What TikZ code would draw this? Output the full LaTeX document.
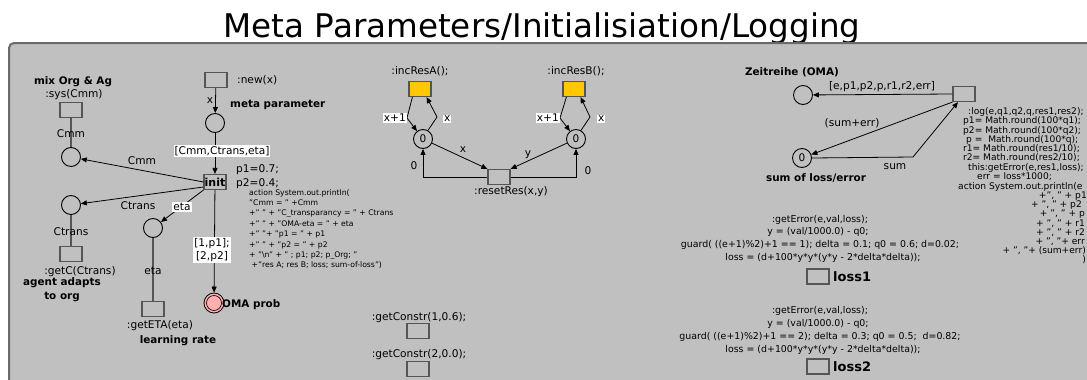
\documentclass[tikz,border=0pt]{standalone}
\usepackage{fontspec}
\setmainfont{DejaVu Sans}
\usetikzlibrary{arrows.meta}
\definecolor{bgray}{HTML}{C0C0C0}
\definecolor{frm}{HTML}{6A6A6A}
\definecolor{tbd}{HTML}{555555}
\definecolor{yel}{HTML}{FFC800}
\definecolor{omapink}{HTML}{FFAFAF}
\newcommand\myfs[2]{\fontsize{#1}{#2}\selectfont}
\begin{document}
\begin{tikzpicture}[x=1pt,y=-1pt,
  trans/.style={draw=tbd, line width=1.2pt, minimum width=22pt, minimum height=15pt, inner sep=0pt},
  place/.style={circle, draw=black, line width=0.9pt, minimum size=19pt, inner sep=0pt, font=\myfs{10.5}{12}},
  arc/.style={draw=black, line width=0.8pt, -{Triangle[length=6pt,width=5pt]}},
  rd/.style={draw=tbd, line width=1.3pt},
  txt/.style={inner sep=0pt, font=\myfs{10.6}{12}},
  btxt/.style={inner sep=0pt, font=\myfs{10.4}{12}\bfseries},
  wl/.style={fill=white, inner sep=1pt, font=\myfs{10.6}{12.5}},
  act/.style={inner sep=0pt, font=\myfs{7.7}{10.4}, align=left, anchor=north west},
  lg/.style={inner sep=0pt, font=\myfs{9.1}{10}},
  er/.style={inner sep=0pt, font=\myfs{9.4}{11}},
]
\useasboundingbox (0,0) rectangle (1087,380);
% title and frame
\node[inner sep=0pt, font=\myfs{32.6}{34}, anchor=base] (title) at (542,37) {Meta Parameters/Initialisiation/Logging};
\draw[draw=frm, fill=bgray, line width=2pt, rounded corners=5pt] (9,43) rectangle (1110,400);

% ---------- left part ----------
\node[btxt] (mixlbl) at (73,82) {mix Org \& Ag};
\node[txt] (syslbl) at (74,95) {:sys(Cmm)};
\node[trans] (sys) at (71,110) {};
\node[place] (pCmm) at (71,157) {};
\draw[rd] (sys) -- (pCmm);
\node[txt] (lcmm1) at (71,134) {Cmm};

\node[trans] (new) at (216,80) {};
\node[txt, anchor=west] (newlbl) at (237,80) {:new(x)};
\node[place] (pMeta) at (215,123) {};
\node[btxt, anchor=west] (metalbl) at (230,105) {meta parameter};
\draw[arc] (new) -- (pMeta);
\node[txt] (lx0) at (210,101) {x};

\node[trans, font=\myfs{11}{12}\bfseries] (init) at (215,182) {init};
\draw[arc] (pMeta) -- (init);
\node[wl] (lmeta) at (222,151) {[Cmm,Ctrans,eta]};
\node[txt, anchor=west] (p1) at (236,170) {p1=0.7;};
\node[txt, anchor=west] (p2) at (236,184) {p2=0.4;};
\node[act] (action) at (249,189) {action System.out.println(\\
"Cmm = " +Cmm\\
+" " + "C\_transparancy = " + Ctrans\\
+" " + "OMA-eta = " + eta\\
+" "+ "p1 = " + p1\\
+" " + "p2 = " + p2\\
+ "\textbackslash n" + " ; p1; p2; p\_Org; "\\
\ +"res A; res B; loss; sum-of-loss")};

\draw[arc] (init.west) -- (pCmm);
\node[txt] (lcmm2) at (142,161) {Cmm};

\node[place] (pCtrans) at (71,205) {};
\draw[arc] ([yshift=-5pt]init.west) -- (pCtrans);
\node[txt] (lct1) at (138,206) {Ctrans};
\node[trans] (getC) at (71,254) {};
\draw[rd] (pCtrans) -- (getC);
\node[txt] (lct2) at (71,232) {Ctrans};
\node[txt] (getClbl) at (80,272) {:getC(Ctrans)};
\node[btxt] (agent1) at (62,283) {agent adapts};
\node[btxt] (agent2) at (62,297) {to org};

\node[place] (pEta) at (153,228) {};
\draw[arc] (init.south west) -- (pEta);
\node[wl] (leta1) at (182,207) {eta};
\node[trans] (getETA) at (153,309) {};
\draw[rd] (pEta) -- (getETA);
\node[txt] (leta2) at (153,271) {eta};
\node[txt] (getETAlbl) at (160,326) {:getETA(eta)};
\node[btxt] (lrate) at (178,341) {learning rate};

\node[circle, draw=black, line width=0.8pt, fill=omapink, minimum size=20pt, inner sep=0pt] (oma) at (214,303) {};
\draw[black, line width=0.6pt] (oma) circle (7.5pt);
\draw[arc] (init) -- (oma);
\node[wl, align=center, font=\myfs{10.6}{13}] (loma) at (212,250) {[1,p1];\\{[2,p2]}};
\node[btxt, anchor=west] (omalbl) at (222,305) {OMA prob};

% ---------- getConstr ----------
\node[txt] (gc1lbl) at (419,318) {:getConstr(1,0.6);};
\node[trans] (gc1) at (418,331) {};
\node[txt] (gc2lbl) at (419,355) {:getConstr(2,0.0);};
\node[trans] (gc2) at (418,369) {};

% ---------- middle part ----------
\node[txt] (incAlbl) at (420,71) {:incResA();};
\node[trans, fill=yel] (boxA) at (420,89) {};
\node[place] (pA) at (423,139) {0};
\node[txt] (incBlbl) at (576,71) {:incResB();};
\node[trans, fill=yel] (boxB) at (574,89) {};
\node[place] (pB) at (576,139) {0};
\node[trans] (reset) at (499,177) {};
\node[txt] (resetlbl) at (511,192) {:resetRes(x,y)};

\coordinate (bA1) at (407,118);
\coordinate (bA2) at (437,117);
\draw[arc] ([xshift=4pt]boxA.south west) -- (bA1) -- (pA);
\node[wl, anchor=east] (lxa) at (bA1) {x+1};
\draw[arc] (pA.60) -- (bA2) -- ([xshift=-5pt]boxA.south east);
\node[wl, anchor=west] (lxa2) at (443,119) {x};

\coordinate (bB1) at (560,118);
\coordinate (bB2) at (590,117);
\draw[arc] ([xshift=4pt]boxB.south west) -- (bB1) -- (pB);
\node[wl, anchor=east] (lxb) at (bB1) {x+1};
\draw[arc] (pB.60) -- (bB2) -- ([xshift=-5pt]boxB.south east);
\node[wl, anchor=west] (lxb2) at (597,119) {x};

\draw[arc] (pA) -- (reset.north west);
\node[txt] (lx1) at (463,150) {x};
\draw[arc] (pB) -- (reset.north east);
\node[txt] (ly1) at (528,155) {y};
\draw[arc] (reset.west) -| (pA);
\node[txt] (l0a) at (414,166) {0};
\draw[arc] (reset.east) -| (pB);
\node[txt] (l0b) at (588,171) {0};

% ---------- right part ----------
\node[btxt] (zeitlbl) at (792,72) {Zeitreihe (OMA)};
\node[place] (pZeit) at (803,95) {};
\node[trans] (log) at (964,94) {};
\draw[arc] (log.west) -- (pZeit);
\node[txt] (lzeit) at (882,87) {[e,p1,p2,p,r1,r2,err]};
\node[place] (pSum) at (802,158) {0};
\node[btxt] (sumlbl) at (816,178) {sum of loss/error};
\draw[arc] (log.south west) -- (pSum);
\node[txt] (lse) at (852,123) {(sum+err)};
\coordinate (sb) at (913,157);
\draw[arc] (pSum.east) -- (sb) -- ([xshift=-6pt]log.south);
\node[txt] (lsum) at (895,167) {sum};

\node[lg, anchor=west] (lg1) at (968,112) {:log(e,q1,q2,q,res1,res2);};
\node[lg, anchor=west] (lg2) at (963,121) {p1= Math.round(100*q1);};
\node[lg, anchor=west] (lg3) at (963,130.5) {p2= Math.round(100*q2);};
\node[lg, anchor=west] (lg4) at (966,140) {p =\ \ Math.round(100*q);};
\node[lg, anchor=west] (lg5) at (963,149) {r1= Math.round(res1/10);};
\node[lg, anchor=west] (lg6) at (963,158) {r2= Math.round(res2/10);};
\node[lg, anchor=west] (lg7) at (968,167.5) {this:getError(e,res1,loss);};
\node[lg, anchor=west] (lg8) at (977,176.5) {err = loss*1000;};
\node[lg, anchor=west] (lg9) at (958,187) {action System.out.println(e};
\node[lg, anchor=east] (lg10) at (1087,196) {+", " + p1};
\node[lg, anchor=east] (lg11) at (1082,205) {+ ", " + p2};
\node[lg, anchor=east] (lg12) at (1085,214) {+ ", " + p};
\node[lg, anchor=east] (lg13) at (1085,223.5) {+ ", " + r1};
\node[lg, anchor=east] (lg14) at (1085,232.5) {+ ", " + r2};
\node[lg, anchor=east] (lg15) at (1085,242) {+ ", "+ err};
\node[lg, anchor=east] (lg16) at (1086,251) {+ ", "+ (sum+err)};
\node[lg, anchor=east] (lg17) at (1086,260) {)};

% ---------- loss blocks ----------
\node[er] (e1a) at (820,219.5) {:getError(e,val,loss);};
\node[er] (e1b) at (818,232) {y = (val/1000.0) - q0;};
\node[er] (e1c) at (820,245) {guard( ((e+1)\%2)+1 == 1); delta = 0.1; q0 = 0.6; d=0.02;};
\node[er] (e1d) at (823,257.5) {loss = (d+100*y*y*(y*y - 2*delta*delta));};
\node[trans] (loss1) at (818,276.5) {};
\node[inner sep=0pt, font=\myfs{13}{14}\bfseries, anchor=west] (loss1lbl) at (833,277) {loss1};

\node[er] (e2a) at (820,311) {:getError(e,val,loss);};
\node[er] (e2b) at (818,324) {y = (val/1000.0) - q0;};
\node[er] (e2c) at (820,337) {guard( ((e+1)\%2)+1 == 2); delta = 0.3; q0 = 0.5;\ \ d=0.82;};
\node[er] (e2d) at (823,350) {loss = (d+100*y*y*(y*y - 2*delta*delta));};
\node[trans] (loss2) at (818,366.5) {};
\node[inner sep=0pt, font=\myfs{13}{14}\bfseries, anchor=west] (loss2lbl) at (833,367) {loss2};
\end{tikzpicture}
\end{document}
